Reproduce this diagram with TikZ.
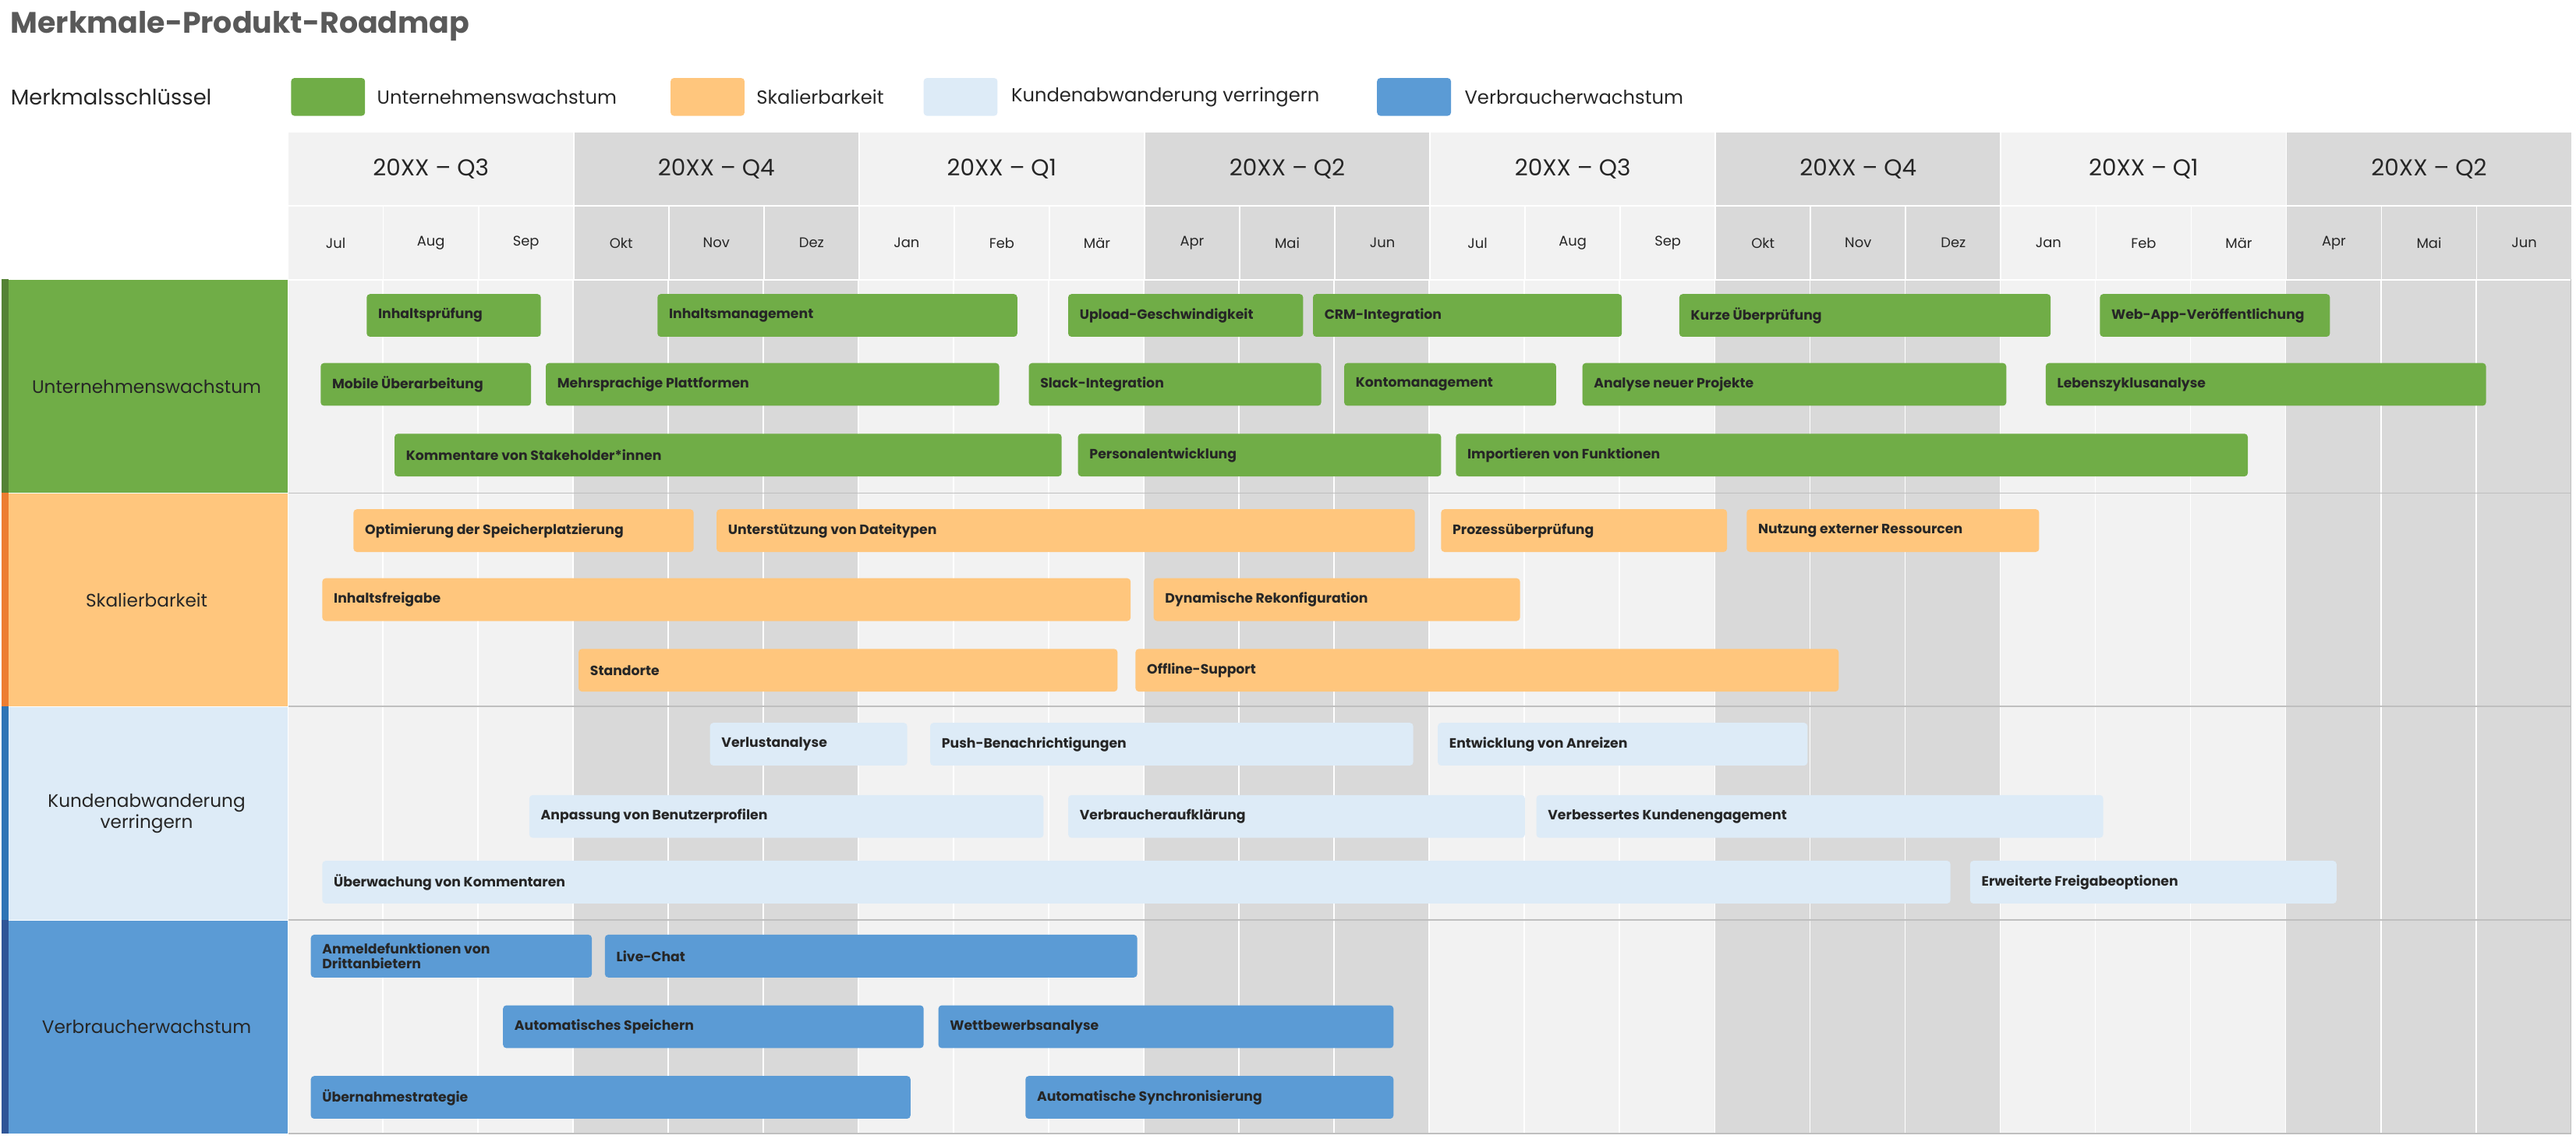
\documentclass[tikz,border=0pt]{standalone}
\usepackage{fontspec}
\setmainfont{Poppins}
\definecolor{gA}{HTML}{70AD47}\definecolor{gD}{HTML}{548235}
\definecolor{oA}{HTML}{FFC67D}\definecolor{oD}{HTML}{ED7D31}
\definecolor{lA}{HTML}{DDEBF7}\definecolor{lD}{HTML}{2E75B6}
\definecolor{bA}{HTML}{5B9BD5}\definecolor{bD}{HTML}{2F5597}
\definecolor{hL}{HTML}{F2F2F2}\definecolor{hD}{HTML}{D9D9D9}
\definecolor{txt}{HTML}{262626}
\tikzset{
 barbox/.style={fill=#1,rounded corners=2pt,minimum height=26pt,inner sep=0pt,anchor=west,draw=none},
 bartext/.style={anchor=west,font=\fontsize{8.2}{9}\selectfont\bfseries,text=txt,inner sep=0pt,align=left},
 hdr/.style={draw=white,line width=0.8pt,inner sep=0pt},
 legsw/.style={fill=#1,rounded corners=2pt,minimum width=45pt,minimum height=23pt,inner sep=0pt,anchor=west},
 legtx/.style={anchor=west,font=\fontsize{11.5}{13}\selectfont,text=txt},
}
\begin{document}
\begin{tikzpicture}[x=1pt,y=-1pt]
\useasboundingbox (0,0) rectangle (1568,693);
\node[anchor=west,font=\fontsize{18}{20}\selectfont\bfseries,text=black!65] (title) at (3,16) {Merkmale-Produkt-Roadmap};
\node[anchor=west,font=\fontsize{13}{15}\selectfont,text=txt] (key) at (3,59) {Merkmalsschlüssel};
\node[legsw=gA] (s1) at (177,59) {}; \node[legtx] (l1) at (226,59) {Unternehmenswachstum};
\node[legsw=oA] (s2) at (408,59) {}; \node[legtx] (l2) at (457,59) {Skalierbarkeit};
\node[legsw=lA] (s3) at (562,59) {}; \node[legtx] (l3) at (612,59) {Kundenabwanderung verringern};
\node[legsw=bA] (s4) at (838,59) {}; \node[legtx] (l4) at (888,59) {Verbraucherwachstum};
% body columns
\def\mw{57.917}
\foreach \q [count=\k from 0] in {20XX – Q3,20XX – Q4,20XX – Q1,20XX – Q2,20XX – Q3,20XX – Q4,20XX – Q1,20XX – Q2}{
  \pgfmathsetmacro{\xa}{175+3*\k*\mw}
  \pgfmathsetmacro{\xb}{175+3*(\k+1)*\mw}
  \pgfmathtruncatemacro{\myodd}{mod(\k,2)}
  \ifnum\myodd=0 \def\cc{hL}\else\def\cc{hD}\fi
  \fill[\cc] (\xa,170) rectangle (\xb,690);
  \node[hdr,fill=\cc,minimum width={3*\mw},minimum height=45pt,anchor=north west,font=\fontsize{14}{16}\selectfont,text=txt] (q\k) at (\xa,80) {\q};
}
\foreach \m [count=\k from 0] in {Jul,Aug,Sep,Okt,Nov,Dez,Jan,Feb,Mär,Apr,Mai,Jun,Jul,Aug,Sep,Okt,Nov,Dez,Jan,Feb,Mär,Apr,Mai,Jun}{
  \pgfmathsetmacro{\xa}{175+\k*\mw}
  \pgfmathtruncatemacro{\myodd}{mod(floor(\k/3),2)}
  \ifnum\myodd=0 \def\cc{hL}\else\def\cc{hD}\fi
  \node[hdr,fill=\cc,minimum width=\mw,minimum height=45pt,anchor=north west,font=\fontsize{8.5}{10}\selectfont,text=txt] (m\k) at (\xa,125) {\m};
  \draw[white,line width=0.8pt] (\xa,170) -- (\xa,690);
}
\foreach \yy in {300,430,560,690}{\draw[black!25,line width=0.6pt] (175,\yy) -- (1565,\yy);}
\draw[black!25,line width=0.6pt] (1565,170) -- (1565,690);
% categories
\foreach \ca/\cd/\ya/\t [count=\k] in {gA/gD/170/Unternehmenswachstum,oA/oD/300/Skalierbarkeit,lA/lD/430/{Kundenabwanderung\\verringern},bA/bD/560/Verbraucherwachstum}{
  \node[fill=\ca,minimum width=172pt,minimum height=130pt,anchor=north west,inner sep=0pt,font=\fontsize{11}{13}\selectfont,text=txt,align=center,draw=white,line width=0.5pt] (c\k) at (3,\ya) {\t};
  \fill[\cd] (1,\ya) rectangle (5,\ya+130);
}
% bars
\foreach \col/\xa/\xb/\y/\t [count=\i] in {
gA/223/329/192/Inhaltsprüfung, gA/400/619/192/Inhaltsmanagement, gA/650/793/192/Upload-Geschwindigkeit, gA/799/987/192/CRM-Integration, gA/1022/1248/192/Kurze Überprüfung, gA/1278/1418/192/Web-App-Veröffentlichung,
gA/195/323/234/Mobile Überarbeitung, gA/332/608/234/Mehrsprachige Plattformen, gA/626/804/234/Slack-Integration, gA/818/947/234/Kontomanagement, gA/963/1221/234/Analyse neuer Projekte, gA/1245/1513/234/Lebenszyklusanalyse,
gA/240/646/277/Kommentare von Stakeholder*innen, gA/656/877/277/Personalentwicklung, gA/886/1368/277/Importieren von Funktionen,
oA/215/422/323/Optimierung der Speicherplatzierung, oA/436/861/323/Unterstützung von Dateitypen, oA/877/1051/323/Prozessüberprüfung, oA/1063/1241/323/Nutzung externer Ressourcen,
oA/196/688/365/Inhaltsfreigabe, oA/702/925/365/Dynamische Rekonfiguration,
oA/352/680/408/Standorte, oA/691/1119/408/Offline-Support,
lA/432/552/453/Verlustanalyse, lA/566/860/453/Push-Benachrichtigungen, lA/875/1100/453/Entwicklung von Anreizen,
lA/322/635/497/Anpassung von Benutzerprofilen, lA/650/928/497/Verbraucheraufklärung, lA/935/1280/497/Verbessertes Kundenengagement,
lA/196/1187/537/Überwachung von Kommentaren, lA/1199/1422/537/Erweiterte Freigabeoptionen,
bA/189/360/582/{Anmeldefunktionen von\\Drittanbietern}, bA/368/692/582/Live-Chat,
bA/306/562/625/Automatisches Speichern, bA/571/848/625/Wettbewerbsanalyse,
bA/189/554/668/Übernahmestrategie, bA/624/848/668/Automatische Synchronisierung}{
  \pgfmathsetmacro{\w}{\xb-\xa}
  \node[barbox=\col,minimum width=\w pt] (b\i) at (\xa,\y) {};
  \node[bartext] (t\i) at ([xshift=7pt]b\i.west) {\t};
}
\end{tikzpicture}
\end{document}
